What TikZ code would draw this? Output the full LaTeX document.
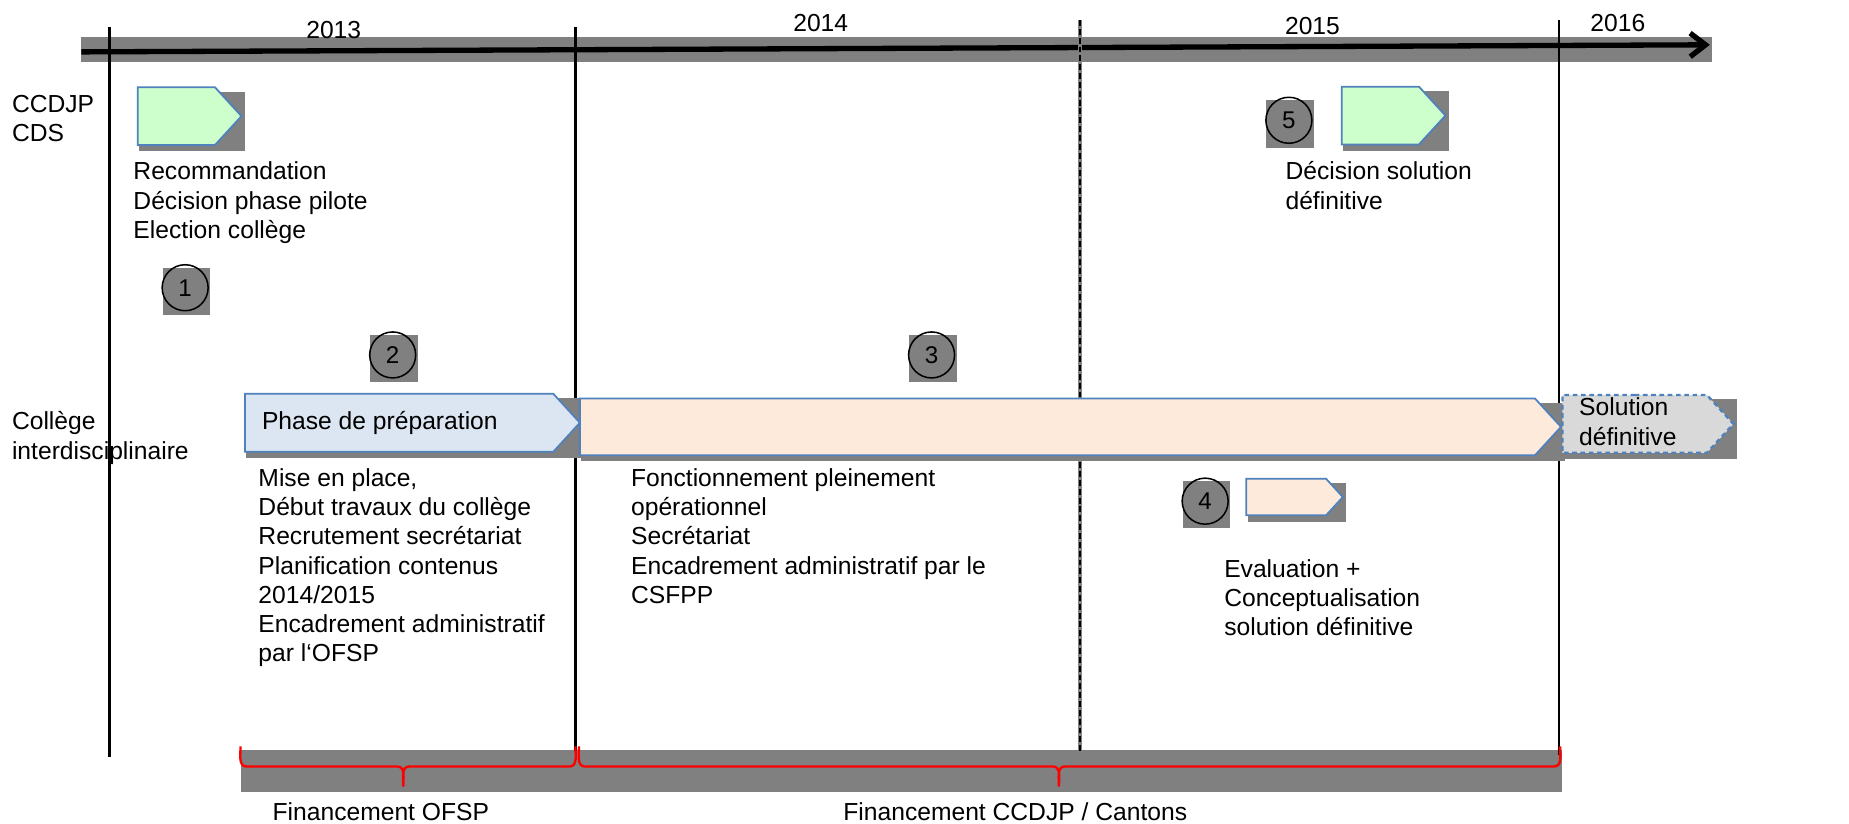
\documentclass[tikz,border=0pt]{standalone}
\usepackage{fontspec}
\setmainfont{Liberation Sans}
\usepackage{tikz}
\usetikzlibrary{shapes,
                arrows.meta,
                backgrounds,
                calc,
                positioning}
\definecolor{shadowgray}{HTML}{808080}
\definecolor{frame}{HTML}{4F81BD}
\definecolor{mint}{HTML}{CCFFCC}
\definecolor{sky}{HTML}{DCE6F2}
\definecolor{peach}{HTML}{FDEADA}
\definecolor{fog}{HTML}{D9D9D9}
\pgfdeclarelayer{grid}
\pgfsetlayers{grid,background,main}
\tikzstyle{txt} = [inner sep=0pt, align=left, font=\fontsize{20.9}{24.8}\selectfont]
\tikzstyle{year} = [txt, anchor=base]
\tikzstyle{milestone} = [signal, signal to=east, signal pointer angle=95, draw=frame, line width=1.5pt, inner sep=0pt, anchor=west]
\tikzstyle{decision} = [milestone, fill=mint, minimum width=88pt, minimum height=49pt]
\tikzstyle{stepnum} = [circle, draw=black, line width=1.3pt, minimum size=39pt, inner sep=0pt, font=\fontsize{20.5}{22}\selectfont]
\tikzstyle{yearline} = [line width=2pt]
\tikzstyle{fund} = [draw=red, line width=2pt]
% gray box behind a node, a bit lower right
\newcommand{\boxshadow}[3]{\fill[shadowgray] ($(#1.north -| #1.west)+(#2,#3)$) rectangle ($(#1.south -| #1.east)+(#2,#3)$);}

\begin{document}
\begin{tikzpicture}[x=1pt, y=-1pt]
\useasboundingbox (0,0) rectangle (1568,698);

% time axis and year borders
\coordinate (tl-start) at (69,44);
\coordinate (tl-end) at (1450,38);
\coordinate (v1top) at (93,23);   \coordinate (v1bot) at (93,642);
\coordinate (v2top) at (488,23);  \coordinate (v2bot) at (488,637);
\coordinate (v3top) at (916,17);  \coordinate (v3bot) at (916,637);
\coordinate (v4top) at (1322,17); \coordinate (v4bot) at (1322,640);

\begin{pgfonlayer}{grid}
\fill[shadowgray] (69,31) rectangle (1452,53);
\fill[shadowgray] (204,636) rectangle (1325,672);
\draw [line width=4.5pt, -{Straight Barb[length=13pt, width=20pt]}] (tl-start) -- (tl-end);
\draw [yearline] (v1top) -- (v1bot);
\draw [yearline] (v2top) -- (v2bot);
\draw [shadowgray, line width=3pt] (v3top) -- (v3bot);
\draw [yearline, dash pattern=on 5pt off 2.5pt] (v3top) -- (v3bot);
\draw [yearline] (v4top) -- (v4bot);
\end{pgfonlayer}

\node (y13) [year] at (283,33) {2013};
\node (y14) [year] at (696,26.5) {2014};
\node (y15) [year] at (1113,29) {2015};
\node (y16) [year] at (1372,26.5) {2016};

% rows
\node (ccdjp) [txt, anchor=base west] at (10,120.3) {CCDJP\\CDS};
\node (college) [txt, anchor=base west] at (10,389.3) {Collège\\interdisciplinaire};

% milestones
\node (rec) [decision] at (116,98.5) {};
\node (final) [decision] at (1137,98) {};
\node (phase) [milestone, fill=sky, minimum width=284pt, minimum height=49pt] at (207,358.5) {};
\node (run) [milestone, fill=peach, minimum width=832pt, minimum height=48pt] at (491,362) {};
\node (sol) [milestone, fill=fog, line width=2pt, dash pattern=on 4pt off 3pt, minimum width=145pt, minimum height=49pt] at (1324,359.5) {};
\node (eval) [milestone, fill=peach, minimum width=82pt, minimum height=31pt] at (1056,421.5) {};
\node (phase-txt) [txt, right=15pt of phase.west] {Phase de préparation};
\node (sol-txt) [txt, right=15pt of sol.west, yshift=2pt] {Solution\\définitive};

\node (n1) [stepnum] at (157,244) {1};
\node (n2) [stepnum] at (333,301) {2};
\node (n3) [stepnum] at (790,301) {3};
\node (n4) [stepnum] at (1022,425) {4};
\node (n5) [stepnum] at (1093,102) {5};

\begin{pgfonlayer}{background}
\boxshadow{rec}{2}{4.5}
\boxshadow{final}{2}{4.5}
\boxshadow{phase}{2}{4.5}
\boxshadow{run}{2}{4.5}
\boxshadow{sol}{2}{4.5}
\boxshadow{eval}{2}{4.5}
\boxshadow{n1}{1}{3}
\boxshadow{n2}{1}{3}
\boxshadow{n3}{1}{3}
\boxshadow{n4}{1}{3}
\boxshadow{n5}{1}{3}
\end{pgfonlayer}

% descriptions
\node (rec-txt) [txt, anchor=base west] at (113,202.1) {Recommandation\\Décision phase pilote\\Election collège};
\node (final-txt) [txt, anchor=base west] at (1090,177.3) {Décision solution\\définitive};
\node (phase-desc) [txt, anchor=base west] at (219,561.3) {Mise en place,\\Début travaux du collège\\Recrutement secrétariat\\Planification contenus\\2014/2015\\Encadrement administratif\\par l‘OFSP};
\node (run-desc) [txt, anchor=base west] at (535,511.7) {Fonctionnement pleinement\\opérationnel\\Secrétariat\\Encadrement administratif par le\\CSFPP};
\node (eval-desc) [txt, anchor=base west] at (1038,539.1) {Evaluation +\\Conceptualisation\\solution définitive};

% funding braces
\coordinate (f1a) at (204,633); \coordinate (f1m) at (342,667); \coordinate (f1b) at (488,633);
\coordinate (f2a) at (491,633); \coordinate (f2m) at (898,667); \coordinate (f2b) at (1323,633);
\draw [fund] (f1a) to[out=-90,in=180] ($(f1a)+(5,17)$) -- ($(f1m)+(-5,-17)$) to[out=0,in=90] (f1m)
  to[out=90,in=180] ($(f1m)+(5,-17)$) -- ($(f1b)+(-5,17)$) to[out=0,in=-90] (f1b);
\draw [fund] (f2a) to[out=-90,in=180] ($(f2a)+(5,17)$) -- ($(f2m)+(-5,-17)$) to[out=0,in=90] (f2m)
  to[out=90,in=180] ($(f2m)+(5,-17)$) -- ($(f2b)+(-5,17)$) to[out=0,in=-90] (f2b);
\node (fund1) [txt, anchor=base west] at (231,696) {Financement OFSP};
\node (fund2) [txt, anchor=base west] at (715,696) {Financement CCDJP / Cantons};

\end{tikzpicture}
\end{document}
